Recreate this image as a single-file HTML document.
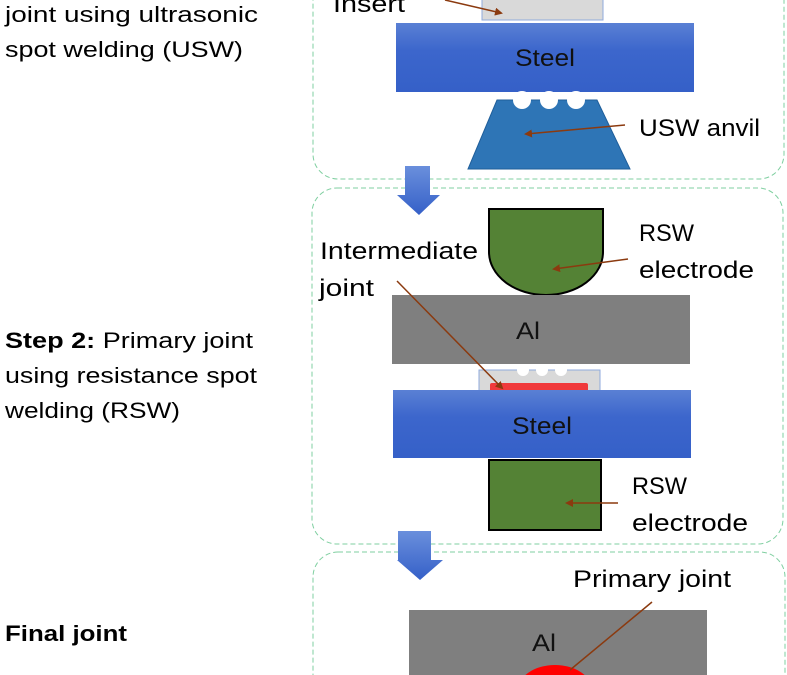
<!DOCTYPE html>
<html><head><style>html,body{margin:0;background:#fff;overflow:hidden;width:787px;height:675px}svg{display:block}</style></head><body>
<svg width="787" height="675" viewBox="0 0 787 675" xmlns="http://www.w3.org/2000/svg" font-family="Liberation Sans, sans-serif">
<defs>
<linearGradient id="st" x1="0" y1="0" x2="0" y2="1"><stop offset="0" stop-color="#5a80d4"/><stop offset="0.4" stop-color="#3c66cc"/><stop offset="1" stop-color="#3560c8"/></linearGradient>
<linearGradient id="ar" x1="0" y1="0" x2="0" y2="1"><stop offset="0" stop-color="#6a8fdc"/><stop offset="1" stop-color="#3560c8"/></linearGradient>
<marker id="mh" markerWidth="8" markerHeight="8" refX="6" refY="4" orient="auto" markerUnits="userSpaceOnUse"><path d="M0,0 L8,4 L0,8 Z" fill="#8b3a0f"/></marker>
</defs>
<g fill="none" stroke="#7fcfa0" stroke-width="1" stroke-dasharray="5,3">
<rect x="313" y="-30" width="471" height="209" rx="25"/>
<rect x="312" y="188" width="471" height="356" rx="25"/>
<rect x="313" y="552" width="472" height="160" rx="25"/>
</g>
<g font-size="22" fill="#000">
<text x="5" y="22" textLength="253" lengthAdjust="spacingAndGlyphs">joint using ultrasonic</text>
<text x="5" y="57" textLength="238" lengthAdjust="spacingAndGlyphs">spot welding (USW)</text>
<text x="5" y="348" textLength="248" lengthAdjust="spacingAndGlyphs"><tspan font-weight="bold">Step 2:</tspan> Primary joint</text>
<text x="5" y="383" textLength="252" lengthAdjust="spacingAndGlyphs">using resistance spot</text>
<text x="5" y="418" textLength="175" lengthAdjust="spacingAndGlyphs">welding (RSW)</text>
<text x="5" y="641" font-weight="bold" textLength="122" lengthAdjust="spacingAndGlyphs">Final joint</text>
</g>
<g font-size="24" fill="#000" lengthAdjust="spacingAndGlyphs">
<text x="333" y="12" textLength="72" lengthAdjust="spacingAndGlyphs">Insert</text>
<text x="515" y="66" textLength="60" lengthAdjust="spacingAndGlyphs" fill="#111">Steel</text>
<text x="639" y="136" textLength="121" lengthAdjust="spacingAndGlyphs">USW anvil</text>
<text x="639" y="241" textLength="55" lengthAdjust="spacingAndGlyphs">RSW</text>
<text x="639" y="278" textLength="115" lengthAdjust="spacingAndGlyphs">electrode</text>
<text x="320" y="259" textLength="158" lengthAdjust="spacingAndGlyphs">Intermediate</text>
<text x="319" y="296" textLength="55" lengthAdjust="spacingAndGlyphs">joint</text>
<text x="516" y="339" textLength="24" lengthAdjust="spacingAndGlyphs" fill="#111">Al</text>
<text x="512" y="434" textLength="60" lengthAdjust="spacingAndGlyphs" fill="#111">Steel</text>
<text x="632" y="494" textLength="55" lengthAdjust="spacingAndGlyphs">RSW</text>
<text x="632" y="531" textLength="116" lengthAdjust="spacingAndGlyphs">electrode</text>
<text x="573" y="587" textLength="158" lengthAdjust="spacingAndGlyphs">Primary joint</text>
<text x="532" y="651" textLength="24" lengthAdjust="spacingAndGlyphs" fill="#111">Al</text>
</g>
<!-- step1 -->
<rect x="482" y="-5" width="121" height="25" fill="#d9d9d9" stroke="#8faadc" stroke-width="1"/>
<line x1="445" y1="0" x2="501" y2="13" stroke="#8b3a0f" stroke-width="1.5" marker-end="url(#mh)"/>
<rect x="396" y="23" width="298" height="69" fill="url(#st)"/>
<text x="515" y="66" font-size="24" fill="#111" textLength="60" lengthAdjust="spacingAndGlyphs">Steel</text>
<path d="M497,100 L597,100 L630,169 L468,169 Z" fill="#2e75b6" stroke="#1f5e9a" stroke-width="1"/>
<g fill="#fff"><circle cx="522" cy="100" r="9"/><circle cx="549" cy="100" r="9"/><circle cx="576" cy="100" r="9"/></g>
<line x1="625" y1="125" x2="526" y2="134" stroke="#8b3a0f" stroke-width="1.5" marker-end="url(#mh)"/>
<path d="M405,166 H430 V195 H440 L419,215 L397,195 H405 Z" fill="url(#ar)"/>
<!-- step2 -->
<path d="M489,209 H603 V252 A57,43 0 0 1 489,252 Z" fill="#548235" stroke="#000" stroke-width="2"/>
<line x1="628" y1="259" x2="554" y2="269" stroke="#8b3a0f" stroke-width="1.5" marker-end="url(#mh)"/>
<rect x="392" y="295" width="298" height="69" fill="#7f7f7f"/>
<text x="516" y="339" font-size="24" fill="#111" textLength="24" lengthAdjust="spacingAndGlyphs">Al</text>
<rect x="479" y="370" width="121" height="22" fill="#d9d9d9" stroke="#8faadc" stroke-width="1"/>
<g fill="#fff"><circle cx="523" cy="370" r="6"/><circle cx="542" cy="370" r="6"/><circle cx="561" cy="370" r="6"/></g>
<rect x="490" y="383" width="98" height="10" rx="2" fill="#f0393b"/>
<line x1="397" y1="281" x2="502" y2="388" stroke="#8b3a0f" stroke-width="1.5" marker-end="url(#mh)"/>
<rect x="393" y="390" width="298" height="68" fill="url(#st)"/>
<text x="512" y="434" font-size="24" fill="#111" textLength="60" lengthAdjust="spacingAndGlyphs">Steel</text>
<rect x="489" y="460" width="112" height="70" fill="#548235" stroke="#000" stroke-width="2"/>
<line x1="618" y1="503" x2="567" y2="503" stroke="#8b3a0f" stroke-width="1.5" marker-end="url(#mh)"/>
<path d="M398,531 H431 V560 H443 L420,580 L397,560 H398 Z" fill="url(#ar)"/>
<!-- final -->
<rect x="409" y="610" width="298" height="80" fill="#7f7f7f"/>
<text x="532" y="651" font-size="24" fill="#111" textLength="24" lengthAdjust="spacingAndGlyphs">Al</text>
<ellipse cx="555" cy="690" rx="37" ry="25" fill="#ff0000"/>
<line x1="652" y1="602" x2="570" y2="670" stroke="#8b3a0f" stroke-width="1.5"/>
</svg>
</body></html>
